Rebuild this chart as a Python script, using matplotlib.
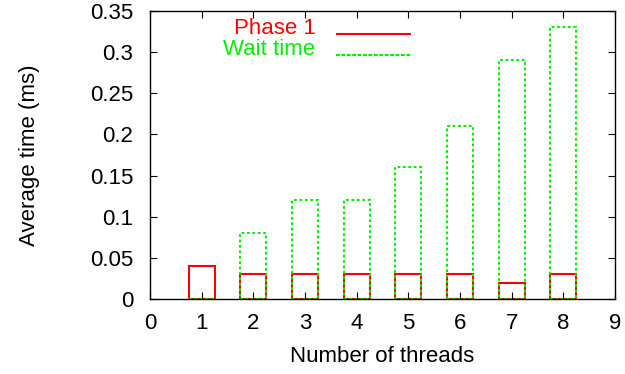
import numpy as np
from matplotlib import pyplot as plt

plt.rcParams['font.family'] = ['Liberation Sans', 'DejaVu Sans']

threads = [1, 2, 3, 4, 5, 6, 7, 8]
phase1 = [0.04, 0.03, 0.03, 0.03, 0.03, 0.03, 0.02, 0.03]
wait_time = [0.0, 0.08, 0.12, 0.12, 0.16, 0.21, 0.29, 0.33]

fig = plt.figure(figsize=(6.25, 3.74), dpi=100)
ax = fig.add_axes([0.24, 0.2005, 0.744, 0.7705])

ax.bar(threads, phase1, width=0.5, fill=False, edgecolor='#ff0000',
       linewidth=1.5, label='Phase 1')
ax.bar(threads, wait_time, width=0.5, fill=False, edgecolor='#00ee00',
       linewidth=1.5, linestyle=(0, (1.3, 1.3)), label='Wait time')

ax.set_xlim(0, 9)
ax.set_ylim(0, 0.35)
ax.set_xticks(range(10))
ax.set_yticks(np.arange(0, 0.36, 0.05))
ax.set_yticklabels(['0', '0.05', '0.1', '0.15', '0.2', '0.25', '0.3', '0.35'])
ax.tick_params(direction='in', top=True, right=True, labelsize=16, length=5)
ax.tick_params(axis='y', pad=12)
ax.tick_params(axis='x', pad=10)
for s in ax.spines.values():
    s.set_linewidth(1)

ax.set_xlabel('Number of threads', fontsize=16, labelpad=9)
ax.set_ylabel('Average time (ms)', fontsize=16, labelpad=36)

leg = ax.legend(loc='upper left', bbox_to_anchor=(0.115, 1.045), frameon=False,
                markerfirst=False, fontsize=16, handlelength=3.4,
                labelspacing=0.0, handletextpad=0.9)
for txt, c in zip(leg.get_texts(), ['#ff0000', '#00ee00']):
    txt.set_color(c)
    txt.set_ha('right')
for h in leg.legend_handles:
    h.set_height(0)

fig.savefig('out.png', dpi=100)
